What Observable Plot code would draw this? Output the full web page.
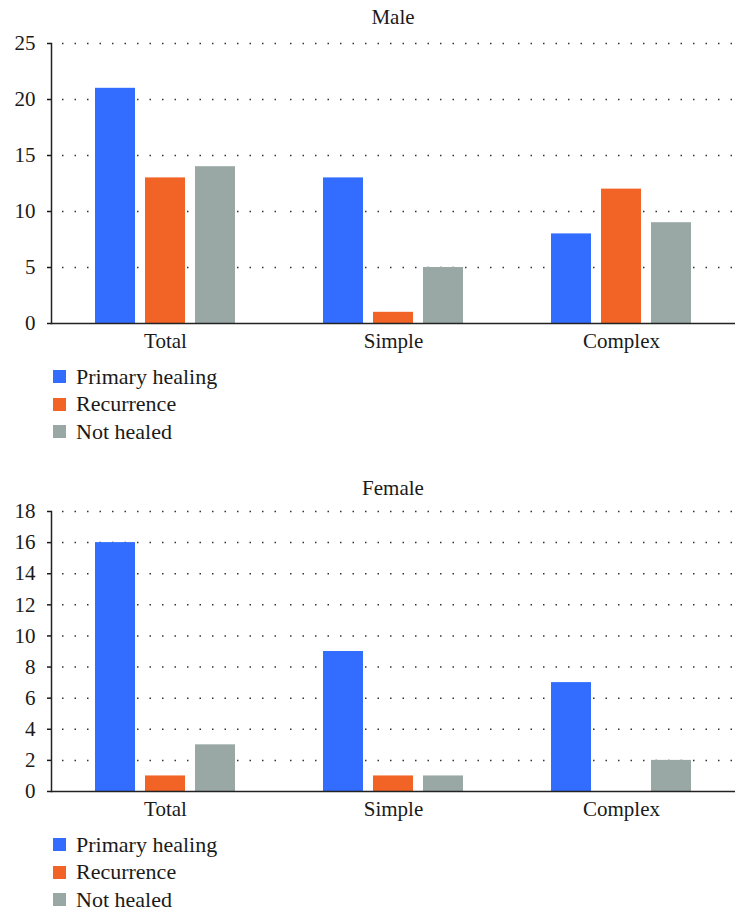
<!DOCTYPE html>
<html>
<head>
<meta charset="utf-8">
<script src="https://cdn.jsdelivr.net/npm/d3@7"></script>
<script src="https://cdn.jsdelivr.net/npm/@observablehq/plot@0.6"></script>
<style>
  body { margin: 0; background: #fff; font-family: "Liberation Serif", "DejaVu Serif", serif; color: #1a1a1a; }
  #wrap { position: relative; width: 749px; height: 915px; background: #fff; }
  .title { position: absolute; left: 51px; width: 684px; text-align: center; font-size: 21px; line-height: 22px; }
  .chart { position: absolute; left: 0; }
  .legend { position: absolute; left: 53px; font-size: 22px; }
  .legend .row { display: flex; align-items: center; height: 27.5px; }
  .legend .sw { width: 13px; height: 13px; margin-right: 10px; }
</style>
</head>
<body>
<div id="wrap">
  <div class="title" style="top:6px">Male</div>
  <div class="chart" id="male" style="top:30px"></div>
  <div class="legend" id="legMale" style="top:363px"></div>
  <div class="title" style="top:477px">Female</div>
  <div class="chart" id="female" style="top:500px"></div>
  <div class="legend" id="legFemale" style="top:831px"></div>
</div>
<script>
const categories = ["Total", "Simple", "Complex"];
const seriesNames = ["Primary healing", "Recurrence", "Not healed"];
const seriesColors = ["#336dff", "#f26426", "#99a8a5"];

const malePrimary = [21, 13, 8];
const maleRecurrence = [13, 1, 12];
const maleNotHealed = [14, 5, 9];
const maleTicks = [0, 5, 10, 15, 20, 25];

const femalePrimary = [16, 9, 7];
const femaleRecurrence = [1, 1, 0];
const femaleNotHealed = [3, 1, 2];
const femaleTicks = [0, 2, 4, 6, 8, 10, 12, 14, 16, 18];

function rows(primary, recurrence, notHealed) {
  const out = [];
  categories.forEach((c, i) => {
    out.push({category: c, series: seriesNames[0], value: primary[i]});
    out.push({category: c, series: seriesNames[1], value: recurrence[i]});
    out.push({category: c, series: seriesNames[2], value: notHealed[i]});
  });
  return out;
}

function chart(data, ticks, marginTop) {
  const ymax = ticks[ticks.length - 1];
  return Plot.plot({
    width: 749,
    height: marginTop + 280 + 35,
    marginLeft: 51,
    marginRight: 14,
    marginTop: marginTop,
    marginBottom: 35,
    style: {fontFamily: "'Liberation Serif', 'DejaVu Serif', serif", fontSize: "21px", color: "#1a1a1a", background: "white"},
    fx: {domain: categories, padding: 0, label: null},
    x: {domain: seriesNames, paddingInner: 0.208, paddingOuter: 0.86, axis: null},
    y: {domain: [0, ymax], label: null},
    color: {domain: seriesNames, range: seriesColors},
    marks: [
      Plot.gridY(ticks.slice(1), {stroke: "#333", strokeOpacity: 1, strokeWidth: 1.5, strokeDasharray: "1.5,11", strokeDashoffset: -11}),
      Plot.barY(data, {fx: "category", x: "series", y: "value", fill: "series"}),
      Plot.ruleY([0], {stroke: "#222", strokeWidth: 1.5}),
      Plot.frame({anchor: "left", facetAnchor: "left", stroke: "#222", strokeWidth: 1.5}),
      Plot.axisY(ticks, {tickSize: 4, tickPadding: 12, label: null, fontSize: 21, strokeWidth: 1.5}),
      Plot.axisFx({anchor: "bottom", tickSize: 0, tickPadding: 10, label: null, fontSize: 21})
    ]
  });
}

function legend(el) {
  seriesNames.forEach((s, i) => {
    const row = document.createElement("div");
    row.className = "row";
    const sw = document.createElement("span");
    sw.className = "sw";
    sw.style.background = seriesColors[i];
    const t = document.createElement("span");
    t.textContent = s;
    row.appendChild(sw);
    row.appendChild(t);
    el.appendChild(row);
  });
}

document.getElementById("male").appendChild(chart(rows(malePrimary, maleRecurrence, maleNotHealed), maleTicks, 13));
document.getElementById("female").appendChild(chart(rows(femalePrimary, femaleRecurrence, femaleNotHealed), femaleTicks, 11));
legend(document.getElementById("legMale"));
legend(document.getElementById("legFemale"));
</script>
</body>
</html>
